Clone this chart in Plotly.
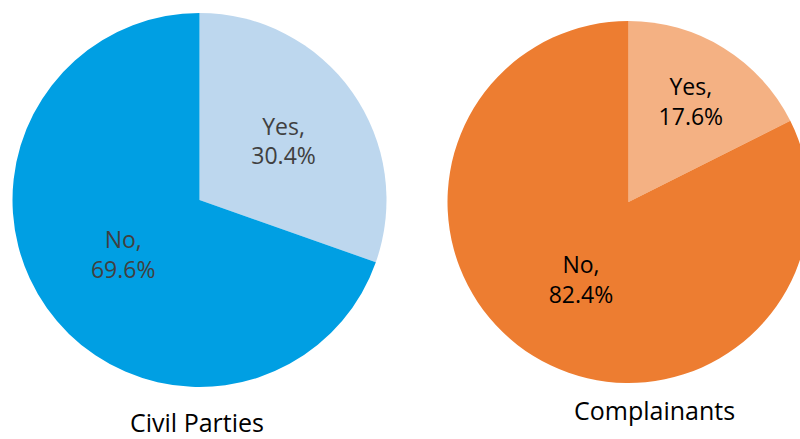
import plotly.graph_objects as go

# Survey answers per group
categories = ["Yes", "No"]
civil_parties = [30.4, 69.6]
complainants = [17.6, 82.4]
group_titles = ["Civil Parties", "Complainants"]

civil_colors = ["#BDD7EE", "#009FE3"]
compl_colors = ["#F4B183", "#ED7D31"]

W, H = 812, 439
FONT = "Open Sans"

def dom_x(a, b):
    return [a / W, b / W]

def dom_y(top, bottom):
    return [(H - bottom) / H, (H - top) / H]

fig = go.Figure()

fig.add_trace(go.Pie(
    labels=categories, values=civil_parties,
    sort=False, direction="clockwise", rotation=0,
    marker=dict(colors=civil_colors, line=dict(width=0)),
    texttemplate="%{label},<br>%{value:.1f}%",
    textposition="inside", insidetextorientation="horizontal",
    textfont=dict(family=FONT, size=23, color="#404040"),
    hoverinfo="label+value",
    domain=dict(x=dom_x(12.5, 386.5), y=dom_y(13, 387)),
    showlegend=False,
))

fig.add_trace(go.Pie(
    labels=categories, values=complainants,
    sort=False, direction="clockwise", rotation=0,
    marker=dict(colors=compl_colors, line=dict(width=0)),
    texttemplate="%{label},<br>%{value:.1f}%",
    textposition="inside", insidetextorientation="horizontal",
    textfont=dict(family=FONT, size=23, color="#000000"),
    hoverinfo="label+value",
    domain=dict(x=dom_x(447.5, 809.5), y=dom_y(21, 383)),
    showlegend=False,
))

fig.add_annotation(text=group_titles[0], x=197 / W, y=(H - 422) / H,
                   xref="paper", yref="paper", showarrow=False,
                   xanchor="center", yanchor="middle", borderpad=0,
                   font=dict(family=FONT, size=25, color="#000000"))
fig.add_annotation(text=group_titles[1], x=654 / W, y=(H - 410) / H,
                   xref="paper", yref="paper", showarrow=False,
                   xanchor="center", yanchor="middle", borderpad=0,
                   font=dict(family=FONT, size=25, color="#000000"))

fig.update_layout(
    width=W, height=H,
    margin=dict(l=0, r=0, t=0, b=0),
    paper_bgcolor="white", plot_bgcolor="white",
    uniformtext=dict(minsize=10),
)

fig.write_html(
    "out.html",
    post_script=(
        "document.documentElement.style.overflow='hidden';"
        "document.body.style.overflow='hidden';"
        "document.body.style.margin='0';"
    ),
)
